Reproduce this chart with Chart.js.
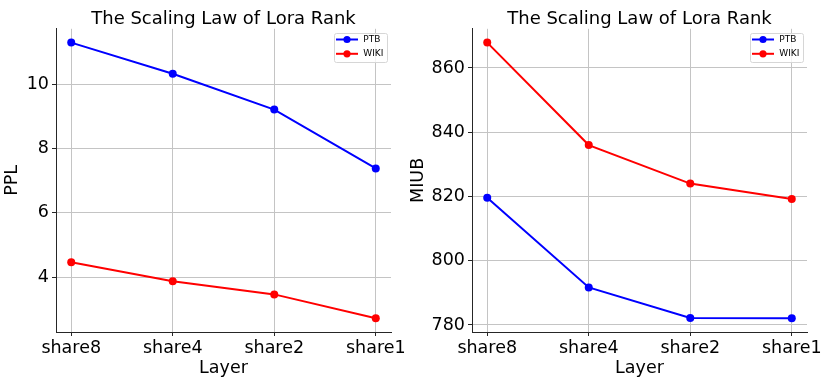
<!DOCTYPE html>
<html>
<head>
<meta charset="utf-8">
<script src="https://cdn.jsdelivr.net/npm/chart.js@4/dist/chart.umd.min.js"></script>
<style>
body { margin: 0; background: #fff; }
.box { position: absolute; top: 0; height: 388px; }
</style>
</head>
<body>
<div class="box" style="left:0;width:415px"><canvas id="pplChart"></canvas></div>
<div class="box" style="left:400px;width:431px"><canvas id="miubChart"></canvas></div>
<script>
// data
var layers = ['share8', 'share4', 'share2', 'share1'];
var pplPTB = [11.29, 10.32, 9.21, 7.38];
var pplWIKI = [4.47, 3.88, 3.47, 2.73];
var miubPTB = [819.6, 791.7, 782.2, 782.1];
var miubWIKI = [867.9, 836.0, 824.0, 819.2];
var pplTicks = [4, 6, 8, 10];
var miubTicks = [780, 800, 820, 840, 860];

Chart.defaults.font.family = "'DejaVu Sans', sans-serif";

// small legend box inside the top right corner of the plot
var miniLegend = {
    id: 'miniLegend',
    afterDraw: function (chart) {
        var ctx = chart.ctx, a = chart.chartArea;
        var w = 53, h = 29, x = a.right - 4 - w, y = a.top + 4;
        ctx.save();
        ctx.fillStyle = 'rgba(255,255,255,0.8)';
        ctx.strokeStyle = '#d6d6d6';
        ctx.lineWidth = 1;
        ctx.beginPath();
        ctx.roundRect(Math.round(x) + 0.5, Math.round(y) + 0.5, w, h, 2);
        ctx.fill();
        ctx.stroke();
        chart.data.datasets.forEach(function (ds, i) {
            var cy = y + 6.7 + i * 14.3;
            ctx.strokeStyle = ds.borderColor;
            ctx.lineWidth = 2;
            ctx.beginPath();
            ctx.moveTo(x + 2, cy);
            ctx.lineTo(x + 24, cy);
            ctx.stroke();
            ctx.fillStyle = ds.borderColor;
            ctx.beginPath();
            ctx.arc(x + 13, cy, 3.6, 0, Math.PI * 2);
            ctx.fill();
            ctx.fillStyle = '#000';
            ctx.font = "9px 'DejaVu Sans'";
            ctx.textBaseline = 'middle';
            ctx.textAlign = 'left';
            ctx.fillText(ds.label, x + 29.3, cy);
        });
        ctx.restore();
    }
};

function toPoints(values) {
    return values.map(function (v, i) { return {x: i, y: v}; });
}

function lineSet(label, values, color) {
    return {
        label: label,
        data: toPoints(values),
        borderColor: color,
        backgroundColor: color,
        borderWidth: 2,
        pointRadius: 4,
        pointBorderWidth: 0,
        pointBackgroundColor: color,
        tension: 0
    };
}

function makeChart(id, yLabel, ptb, wiki, yTicks, yWidth, yTitlePad) {
    var all = ptb.concat(wiki);
    var lo = Math.min.apply(null, all), hi = Math.max.apply(null, all);
    var m = (hi - lo) * 0.05;
    return new Chart(document.getElementById(id).getContext('2d'), {
        type: 'line',
        data: {
            datasets: [lineSet('PTB', ptb, '#0000ff'), lineSet('WIKI', wiki, '#ff0000')]
        },
        options: {
            responsive: true,
            maintainAspectRatio: false,
            animation: false,
            layout: {padding: {left: 0, right: 24, top: 0, bottom: 0}},
            plugins: {
                legend: {display: false},
                tooltip: {enabled: false},
                title: {
                    display: true,
                    text: 'The Scaling Law of Lora Rank',
                    fullSize: false,
                    color: '#000',
                    font: {size: 18, weight: 'normal', lineHeight: 1.1},
                    padding: {top: 9, bottom: 0}
                }
            },
            scales: {
                x: {
                    type: 'linear',
                    min: -0.15,
                    max: 3.15,
                    afterBuildTicks: function (s) {
                        s.ticks = layers.map(function (l, i) { return {value: i}; });
                    },
                    afterFit: function (s) { s.height = 56; },
                    ticks: {
                        callback: function (v) { return layers[v]; },
                        color: '#000',
                        font: {size: 17.5},
                        padding: 2,
                        maxRotation: 0,
                        autoSkip: false
                    },
                    grid: {color: '#c4c4c4', tickColor: '#262626', tickLength: 4},
                    border: {color: '#262626'},
                    title: {
                        display: true,
                        text: 'Layer',
                        color: '#000',
                        font: {size: 17.5},
                        padding: {top: 0, bottom: 9.5}
                    }
                },
                y: {
                    min: lo - m,
                    max: hi + m,
                    afterBuildTicks: function (s) {
                        s.ticks = yTicks.map(function (v) { return {value: v}; });
                    },
                    afterFit: function (s) { s.width = yWidth; },
                    ticks: {color: '#000', font: {size: 17.5}, padding: 3},
                    grid: {color: '#c4c4c4', tickColor: '#262626', tickLength: 4},
                    border: {color: '#262626'},
                    title: {
                        display: true,
                        text: yLabel,
                        color: '#000',
                        font: {size: 17.5},
                        padding: {top: yTitlePad, bottom: 0}
                    }
                }
            }
        },
        plugins: [miniLegend]
    });
}

var pplChart = makeChart('pplChart', 'PPL', pplPTB, pplWIKI, pplTicks, 56, 2.2);
var miubChart = makeChart('miubChart', 'MIUB', miubPTB, miubWIKI, miubTicks, 72, 8.3);
</script>
</body>
</html>
